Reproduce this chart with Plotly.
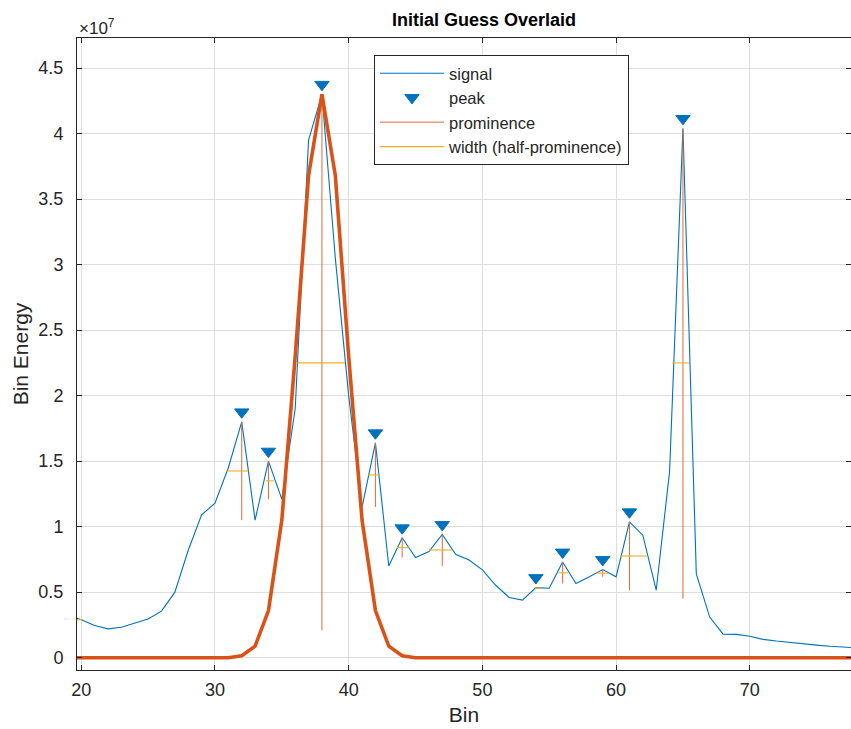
import plotly.graph_objects as go

# ---- data (values in units of 1e7) ----
bins = list(range(19, 79))
signal = [0.32, 0.29, 0.245, 0.22, 0.232, 0.262, 0.295, 0.355, 0.50, 0.82,
          1.09, 1.18, 1.45, 1.80, 1.05, 1.50, 1.21, 1.90, 3.95, 4.30,
          3.05, 2.00, 1.15, 1.64, 0.70, 0.915, 0.765, 0.81, 0.94, 0.79,
          0.745, 0.67, 0.553, 0.46, 0.44, 0.535, 0.53, 0.73, 0.566, 0.617,
          0.673, 0.617, 1.037, 0.935, 0.515, 1.42, 4.04, 0.64, 0.31, 0.18,
          0.178, 0.163, 0.14, 0.127, 0.115, 0.104, 0.096, 0.087, 0.081, 0.075]
guess = [0, 0, 0, 0, 0, 0, 0, 0, 0, 0,
         0, 0, 0, 0.015, 0.088, 0.36, 1.05, 2.30, 3.68, 4.30,
         3.68, 2.30, 1.05, 0.36, 0.088, 0.015, 0, 0, 0, 0,
         0, 0, 0, 0, 0, 0, 0, 0, 0, 0,
         0, 0, 0, 0, 0, 0, 0, 0, 0, 0,
         0, 0, 0, 0, 0, 0, 0, 0, 0, 0]

peak_locs = [32, 34, 38, 42, 44, 47, 54, 56, 59, 61, 65]
peak_bases = [1.05, 1.21, 0.21, 1.15, 0.765, 0.70, 0.53, 0.566, 0.617, 0.515, 0.45]

width_left = [18.8, 30.87, 33.8, 36.17, 41.47, 43.6, 46.0, 53.9, 55.7, 58.5, 60.3, 64.2]
width_right = [20.1, 32.49, 34.4, 39.73, 42.27, 44.5, 47.7, 54.4, 56.5, 59.4, 62.35, 65.45]
width_height = [0.29, 1.425, 1.35, 2.25, 1.395, 0.84, 0.822, 0.532, 0.648, 0.645, 0.776, 2.25]

x_ticks = [20, 30, 40, 50, 60, 70]
y_ticks = [0, 0.5, 1, 1.5, 2, 2.5, 3, 3.5, 4, 4.5]
y_ticktext = ["0", "0.5", "1", "1.5", "2", "2.5", "3", "3.5", "4", "4.5"]

MARKER_OFFSET = 0.075

peak_vals = [signal[bins.index(l)] for l in peak_locs]

prom_x, prom_y = [], []
for l, p, b in zip(peak_locs, peak_vals, peak_bases):
    prom_x += [l, l, None]
    prom_y += [p, b, None]

wid_x, wid_y = [], []
for a, b, h in zip(width_left, width_right, width_height):
    wid_x += [a, b, None]
    wid_y += [h, h, None]

BLUE = "#0072BD"
ORANGE = "#D95319"
PROM = "#E06A35"
YELLOW = "#EDB120"
AX = "#262626"
GRID = "#DEDEDE"
FONT = "Arial, Liberation Sans, Helvetica, sans-serif"

fig = go.Figure()
fig.add_trace(go.Scatter(x=bins, y=signal, mode="lines", name="signal",
                         line=dict(color=BLUE, width=1.1)))
fig.add_trace(go.Scatter(x=peak_locs, y=[p + MARKER_OFFSET for p in peak_vals],
                         mode="markers", name="peak",
                         marker=dict(symbol="triangle-down", size=12.5, color=BLUE,
                                     line=dict(color=BLUE, width=1))))
fig.add_trace(go.Scatter(x=prom_x, y=prom_y, mode="lines", name="prominence",
                         line=dict(color=PROM, width=1)))
fig.add_trace(go.Scatter(x=wid_x, y=wid_y, mode="lines", name="width (half-prominence)",
                         line=dict(color=YELLOW, width=1.1)))
fig.add_trace(go.Scatter(x=bins, y=guess, mode="lines", showlegend=False,
                         line=dict(color=ORANGE, width=3.6)))

fig.update_layout(
    width=851, height=729,
    margin=dict(l=77, r=0, t=38, b=59),
    plot_bgcolor="white", paper_bgcolor="white",
    font=dict(family=FONT, color=AX, size=18),
    title=dict(text="<b>Initial Guess Overlaid</b>", x=(484 - 77) / 774, xref="paper",
               xanchor="center", y=1 - 20 / 729, yref="container", yanchor="middle",
               font=dict(size=18, color="black")),
    xaxis=dict(range=[19.68, 77.57], tickvals=x_ticks, showgrid=True, gridcolor=GRID,
               showline=True, linecolor=AX, linewidth=1, mirror="ticks",
               ticks="inside", ticklen=5, tickcolor=AX, zeroline=False,
               tickfont=dict(size=18, color=AX), ticklabelstandoff=3,
               title=dict(text="Bin", font=dict(size=21, color=AX), standoff=8)),
    yaxis=dict(range=[-0.094, 4.73], tickvals=y_ticks, ticktext=y_ticktext,
               showgrid=True, gridcolor=GRID,
               showline=True, linecolor=AX, linewidth=1, mirror="ticks",
               ticks="inside", ticklen=5, tickcolor=AX, zeroline=False,
               tickfont=dict(size=18, color=AX), ticklabelstandoff=9,
               title=dict(text="Bin Energy", font=dict(size=21, color=AX), standoff=4)),
    legend=dict(x=(374 - 77) / 774, y=1 - (55 - 38) / 632, xanchor="left", yanchor="top",
                bgcolor="white", bordercolor=AX, borderwidth=1,
                font=dict(size=16.5, color=AX), itemwidth=64),
    annotations=[dict(text="×10<sup>7</sup>", xref="paper", yref="paper", x=0, y=1,
                      xanchor="left", yanchor="bottom", showarrow=False, yshift=-2,
                      font=dict(size=17, color=AX))],
)

fig.write_html("out.html")
